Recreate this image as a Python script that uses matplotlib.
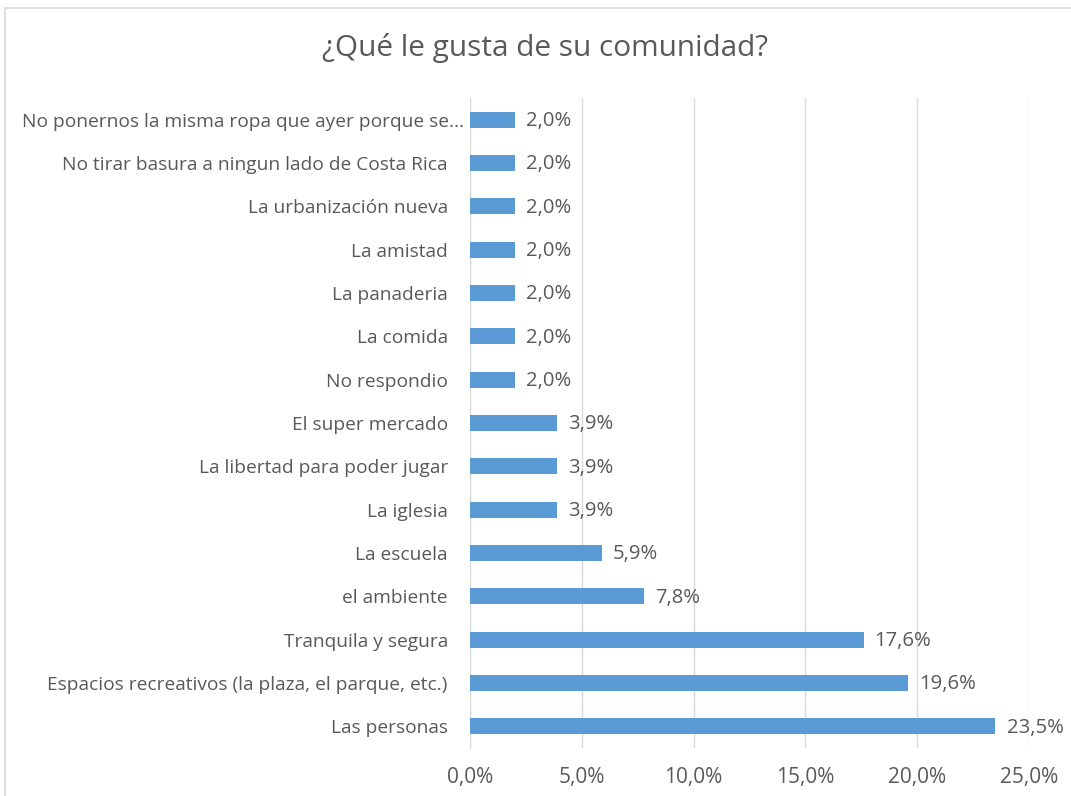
import matplotlib
matplotlib.use("Agg")
import matplotlib.pyplot as plt
from matplotlib.ticker import FuncFormatter, MultipleLocator
from matplotlib.patches import Rectangle
from matplotlib.transforms import ScaledTranslation

categories = [
    "No ponernos la misma ropa que ayer porque se...",
    "No tirar basura a ningun lado de Costa Rica",
    "La urbanización nueva",
    "La amistad",
    "La panaderia",
    "La comida",
    "No respondio",
    "El super mercado",
    "La libertad para poder jugar",
    "La iglesia",
    "La escuela",
    "el ambiente",
    "Tranquila y segura",
    "Espacios recreativos (la plaza, el parque, etc.)",
    "Las personas",
]
values = [2.0, 2.0, 2.0, 2.0, 2.0, 2.0, 2.0, 3.9, 3.9, 3.9, 5.9, 7.8, 17.6, 19.6, 23.5]
title = "¿Qué le gusta de su comunidad?"

plt.rcParams['font.family'] = ['Open Sans', 'DejaVu Sans']
txt = '#595959'

fig = plt.figure(figsize=(10.71, 7.96), dpi=100)
fig.patches.append(Rectangle((5/1071, -0.1), 1.2, 1 - 8/796 + 0.1, transform=fig.transFigure,
                             fill=False, edgecolor='#D9D9D9', linewidth=1.2))
ax = fig.add_axes([470/1071, 48/796, 559/1071, 650/796])

n = len(categories)
ys = list(range(n))
ax.barh(ys, values, height=0.37, color='#5B9BD5', zorder=3)
ax.set_ylim(n - 0.5, -0.5)
ax.set_xlim(0, 25)
ax.xaxis.set_major_locator(MultipleLocator(5))
ax.xaxis.set_major_formatter(FuncFormatter(lambda v, p: f"{v:.1f}%".replace('.', ',')))
ax.set_yticks(ys)
ax.set_yticklabels(categories)
ax.grid(axis='x', color='#D9D9D9', linewidth=1, zorder=0)
for s in ['top', 'right', 'bottom']:
    ax.spines[s].set_visible(False)
ax.spines['left'].set_color('#D9D9D9')
ax.tick_params(axis='both', length=0, colors=txt)
ax.tick_params(axis='y', pad=16, labelsize=13.8)
ax.tick_params(axis='x', pad=14, labelsize=15)
first = ax.get_yticklabels()[0]
first.set_transform(first.get_transform() + ScaledTranslation(16/100, 0, fig.dpi_scale_trans))

for y, v in zip(ys, values):
    ax.annotate(f"{v:.1f}%".replace('.', ','), (v, y), xytext=(8, -1), textcoords='offset points',
                va='center', ha='left', color=txt, fontsize=14.6)

fig.text(545/1071, 1 - 48/796, title, ha='center', va='center', color=txt, fontsize=21.4)

fig.savefig("out.png", dpi=100, facecolor='white')
